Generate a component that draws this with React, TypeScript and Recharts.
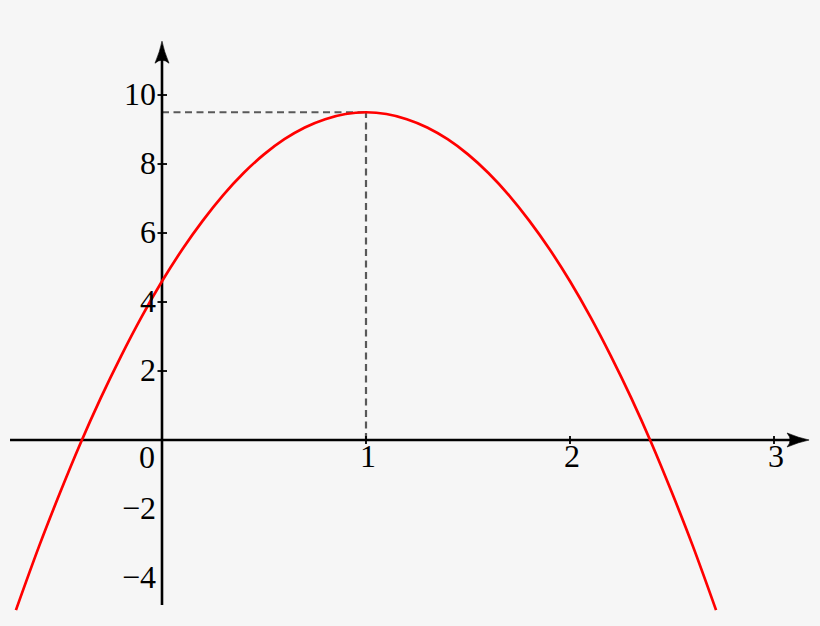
import React from "react";
import {
  LineChart,
  Line,
  XAxis,
  YAxis,
  ReferenceLine,
  ReferenceDot,
} from "recharts";

// Curve values (x, y)
const curveX = [
  -0.716, -0.6, -0.5, -0.4, -0.3, -0.2, -0.1, 0, 0.1, 0.2, 0.3, 0.4, 0.5, 0.6,
  0.7, 0.8, 0.9, 1.0, 1.1, 1.2, 1.3, 1.4, 1.5, 1.6, 1.7, 1.8, 1.9, 2.0, 2.1,
  2.2, 2.3, 2.4, 2.5, 2.6, 2.716,
];
const curveY = [
  -4.93, -3.04, -1.53, -0.1, 1.22, 2.44, 3.57, 4.6, 5.53, 6.36, 7.1, 7.74,
  8.28, 8.72, 9.06, 9.3, 9.45, 9.5, 9.45, 9.3, 9.06, 8.72, 8.28, 7.74, 7.1,
  6.36, 5.53, 4.6, 3.57, 2.44, 1.22, -0.1, -1.53, -3.04, -4.93,
];

// Vertex marked by the dashed guides
const vertex = { x: 1, y: 9.5 };

// Axis ticks and labels
const xTicks = [1, 2, 3];
const xTickLabels = ["1", "2", "3"];
const yTicks = [10, 8, 6, 4, 2];
const yLabelValues = [10, 8, 6, 4, 2, -2, -4];
const yLabelTexts = ["10", "8", "6", "4", "2", "\u22122", "\u22124"];
const originLabel = "0";

// Axis extents (data units)
const xDomain = [-0.7941, 3.2255];
const yDomain = [-5.391, 12.754];
const xAxisRange = [-0.745, 3.118];
const xArrowTip = 3.172;
const yAxisRange = [-4.78, 11.25];
const yArrowTip = 11.56;

const data = curveX.map((x, i) => ({ x, y: curveY[i] }));

const FONT = "'Liberation Serif', 'Times New Roman', serif";
const FONT_SIZE = 32;

const ArrowRight = (props: any) => {
  const { cx, cy } = props;
  const d = `M ${cx} ${cy} Q ${cx - 10} ${cy - 2} ${cx - 22} ${cy - 7} Q ${cx - 16} ${cy} ${cx - 22} ${cy + 7} Q ${cx - 10} ${cy + 2} ${cx} ${cy} Z`;
  return <path d={d} fill="#000" stroke="#000" strokeWidth={0.6} />;
};

const ArrowUp = (props: any) => {
  const { cx, cy } = props;
  const d = `M ${cx} ${cy} Q ${cx - 2} ${cy + 10} ${cx - 7} ${cy + 22} Q ${cx} ${cy + 16} ${cx + 7} ${cy + 22} Q ${cx + 2} ${cy + 10} ${cx} ${cy} Z`;
  return <path d={d} fill="#000" stroke="#000" strokeWidth={0.6} />;
};

const XTickMark = (label: string) => (props: any) => {
  const { cx, cy } = props;
  return (
    <g>
      <line x1={cx} y1={cy - 4} x2={cx} y2={cy + 4} stroke="#000" strokeWidth={1.8} />
      <text
        x={cx + 2}
        y={cy + 27}
        textAnchor="middle"
        fontFamily={FONT}
        fontSize={FONT_SIZE}
        fill="#000"
      >
        {label}
      </text>
    </g>
  );
};

const YTickMark = (props: any) => {
  const { cx, cy } = props;
  return (
    <line x1={cx - 4.5} y1={cy} x2={cx + 5} y2={cy} stroke="#000" strokeWidth={1.8} />
  );
};

const YLabel = (label: string) => (props: any) => {
  const { cx, cy } = props;
  return (
    <text
      x={cx - 6}
      y={cy + 10}
      textAnchor="end"
      fontFamily={FONT}
      fontSize={FONT_SIZE}
      fill="#000"
    >
      {label}
    </text>
  );
};

const OriginLabel = (props: any) => {
  const { cx, cy } = props;
  return (
    <text
      x={cx - 7}
      y={cy + 28}
      textAnchor="end"
      fontFamily={FONT}
      fontSize={FONT_SIZE}
      fill="#000"
    >
      {originLabel}
    </text>
  );
};

export default function App() {
  return (
    <div
      style={{
        position: "absolute",
        left: 0,
        top: 0,
        width: 820,
        height: 626,
        background: "#f6f6f6",
      }}
    >
      <LineChart
        width={820}
        height={626}
        data={data}
        margin={{ top: 0, right: 0, bottom: 0, left: 0 }}
      >
        <XAxis
          type="number"
          dataKey="x"
          domain={xDomain}
          allowDataOverflow
          hide
        />
        <YAxis type="number" domain={yDomain} allowDataOverflow hide />

        {/* dashed guides to the vertex */}
        <ReferenceLine
          segment={[
            { x: 0, y: vertex.y },
            { x: vertex.x, y: vertex.y },
          ]}
          stroke="#595959"
          strokeWidth={2.2}
          strokeDasharray="7 4.5"
        />
        <ReferenceLine
          segment={[
            { x: vertex.x, y: 0 },
            { x: vertex.x, y: vertex.y },
          ]}
          stroke="#595959"
          strokeWidth={2.2}
          strokeDasharray="7 4.5"
        />

        {/* axes */}
        <ReferenceLine
          segment={[
            { x: xAxisRange[0], y: 0 },
            { x: xAxisRange[1], y: 0 },
          ]}
          stroke="#000"
          strokeWidth={2.6}
        />
        <ReferenceLine
          segment={[
            { x: 0, y: yAxisRange[0] },
            { x: 0, y: yAxisRange[1] },
          ]}
          stroke="#000"
          strokeWidth={2.6}
        />
        <ReferenceDot x={xArrowTip} y={0} r={1} shape={ArrowRight} />
        <ReferenceDot x={0} y={yArrowTip} r={1} shape={ArrowUp} />

        {xTicks.map((t, i) => (
          <ReferenceDot
            key={`xt${t}`}
            x={t}
            y={0}
            r={1}
            shape={XTickMark(xTickLabels[i])}
          />
        ))}
        {yTicks.map((t) => (
          <ReferenceDot key={`yt${t}`} x={0} y={t} r={1} shape={YTickMark} />
        ))}
        {yLabelValues.map((t, i) => (
          <ReferenceDot
            key={`yl${t}`}
            x={0}
            y={t}
            r={1}
            shape={YLabel(yLabelTexts[i])}
          />
        ))}
        <ReferenceDot x={0} y={0} r={1} shape={OriginLabel} />

        <Line
          type="monotone"
          dataKey="y"
          stroke="#ff0000"
          strokeWidth={2.7}
          dot={false}
          activeDot={false}
          isAnimationActive={false}
        />
      </LineChart>
    </div>
  );
}
